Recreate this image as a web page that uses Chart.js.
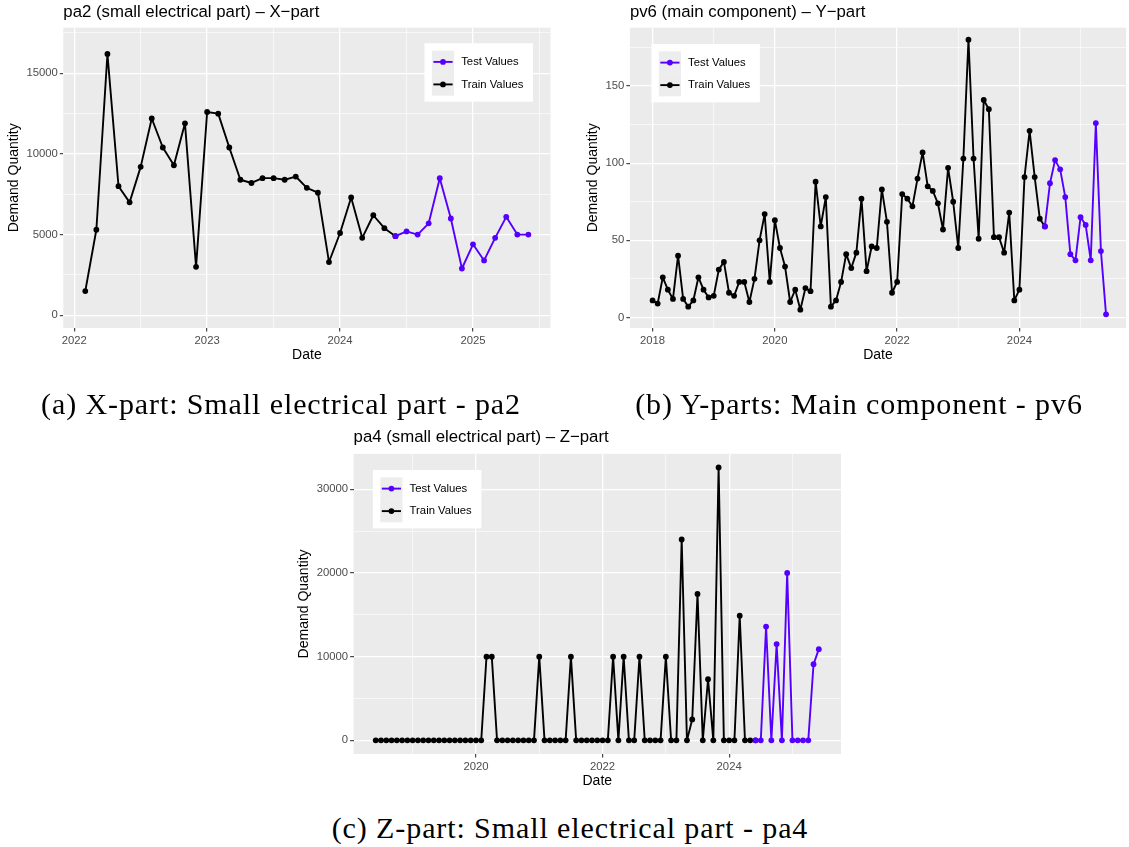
<!DOCTYPE html>
<html><head><meta charset="utf-8">
<script src="https://cdn.jsdelivr.net/npm/chart.js@4.4.1/dist/chart.umd.min.js"></script>
<style>
html,body{margin:0;padding:0;background:#fff;width:1129px;height:847px;overflow:hidden;}
.box{position:absolute;}
canvas{display:block;}
.cap{position:absolute;font-family:"Liberation Serif","Times New Roman",serif;font-size:30px;letter-spacing:0.9px;color:#000;white-space:nowrap;text-align:center;height:40px;line-height:40px;}
</style></head><body>
<div class="box" style="left:0;top:0"><canvas id="cA" width="560" height="370"></canvas></div>
<div class="box" style="left:570px;top:0"><canvas id="cB" width="559" height="370"></canvas></div>
<div class="box" style="left:290px;top:420px"><canvas id="cC" width="560" height="376"></canvas></div>
<div class="cap" style="left:0;width:562px;top:384px">(a) X-part: Small electrical part - pa2</div>
<div class="cap" style="left:589px;width:540px;top:384px">(b) Y-parts: Main component - pv6</div>
<div class="cap" style="left:270px;width:600px;top:808px">(c) Z-part: Small electrical part - pa4</div>
<script>
// ---------- data: pa2 (X-part) ----------
const pa2TrainMonths = [
  '2022-02','2022-03','2022-04','2022-05','2022-06','2022-07','2022-08','2022-09','2022-10','2022-11','2022-12',
  '2023-01','2023-02','2023-03','2023-04','2023-05','2023-06','2023-07','2023-08','2023-09','2023-10','2023-11','2023-12',
  '2024-01','2024-02','2024-03','2024-04','2024-05'];
const pa2TrainValues = [
  1500,5300,16200,8000,7000,9200,12200,10400,9300,11900,3000,
  12600,12500,10400,8400,8200,8500,8500,8400,8600,7900,7600,3300,
  5100,7300,4800,6200,5400];
const pa2TestMonths = ['2024-06','2024-07','2024-08','2024-09','2024-10','2024-11','2024-12',
  '2025-01','2025-02','2025-03','2025-04','2025-05','2025-06'];
const pa2TestValues = [4900,5200,5000,5700,8500,6000,2900,4400,3400,4800,6100,5000,5000];

// ---------- data: pv6 (Y-part) ----------
const pv6TrainMonths = [
  '2018-01','2018-02','2018-03','2018-04','2018-05','2018-06','2018-07','2018-08','2018-09','2018-10','2018-11','2018-12',
  '2019-01','2019-02','2019-03','2019-04','2019-05','2019-06','2019-07','2019-08','2019-09','2019-10','2019-11','2019-12',
  '2020-01','2020-02','2020-03','2020-04','2020-05','2020-06','2020-07','2020-08','2020-09','2020-10','2020-11','2020-12',
  '2021-01','2021-02','2021-03','2021-04','2021-05','2021-06','2021-07','2021-08','2021-09','2021-10','2021-11','2021-12',
  '2022-01','2022-02','2022-03','2022-04','2022-05','2022-06','2022-07','2022-08','2022-09','2022-10','2022-11','2022-12',
  '2023-01','2023-02','2023-03','2023-04','2023-05','2023-06','2023-07','2023-08','2023-09','2023-10','2023-11','2023-12',
  '2024-01','2024-02','2024-03','2024-04','2024-05'];
const pv6TrainValues = [
  11,9,26,18,12,40,12,7,11,26,18,13,
  14,31,36,16,14,23,23,10,25,50,67,23,
  63,45,33,10,18,5,19,17,88,59,78,7,
  11,23,41,32,42,77,30,46,45,83,62,16,
  23,80,77,72,90,107,85,82,74,57,97,75,
  45,103,180,103,51,141,135,52,52,42,68,11,
  18,91,121,91,64];
const pv6TestMonths = ['2024-06','2024-07','2024-08','2024-09','2024-10','2024-11','2024-12',
  '2025-01','2025-02','2025-03','2025-04','2025-05','2025-06'];
const pv6TestValues = [59,87,102,96,78,41,37,65,60,37,126,43,2];

// ---------- data: pa4 (Z-part) ----------
const pa4TrainMonths = [
  '2018-06','2018-07','2018-08','2018-09','2018-10','2018-11','2018-12',
  '2019-01','2019-02','2019-03','2019-04','2019-05','2019-06','2019-07','2019-08','2019-09','2019-10','2019-11','2019-12',
  '2020-01','2020-02','2020-03','2020-04','2020-05','2020-06','2020-07','2020-08','2020-09','2020-10','2020-11','2020-12',
  '2021-01','2021-02','2021-03','2021-04','2021-05','2021-06','2021-07','2021-08','2021-09','2021-10','2021-11','2021-12',
  '2022-01','2022-02','2022-03','2022-04','2022-05','2022-06','2022-07','2022-08','2022-09','2022-10','2022-11','2022-12',
  '2023-01','2023-02','2023-03','2023-04','2023-05','2023-06','2023-07','2023-08','2023-09','2023-10','2023-11','2023-12',
  '2024-01','2024-02','2024-03','2024-04','2024-05'];
const pa4TrainValues = [
  0,0,0,0,0,0,0,
  0,0,0,0,0,0,0,0,0,0,0,0,
  0,0,10000,10000,0,0,0,0,0,0,0,0,
  10000,0,0,0,0,0,10000,0,0,0,0,0,
  0,0,10000,0,10000,0,0,10000,0,0,0,0,
  10000,0,0,24000,0,2500,17500,0,7300,0,32600,0,
  0,0,14900,0,0];
const pa4TestMonths = ['2024-06','2024-07','2024-08','2024-09','2024-10','2024-11','2024-12',
  '2025-01','2025-02','2025-03','2025-04','2025-05','2025-06'];
const pa4TestValues = [0,0,13600,0,11500,0,20000,0,0,0,0,9100,10900];

const seriesLabels = ['Test Values', 'Train Values'];
const yAxisLabel = 'Demand Quantity';
const xAxisLabel = 'Date';

// ---------- styling / helpers ----------
const PURPLE = '#5500FF', BLACK = '#000000';
const FONT = '"Liberation Sans", Arial, Helvetica, sans-serif';

function yearOf(m) { const p = m.split('-').map(Number); return p[0] + (p[1] - 1) / 12; }
function pts(months, vals) { return months.map((m, i) => ({ x: yearOf(m), y: vals[i] })); }
function near(v, step) { return Math.abs(v / step - Math.round(v / step)) < 1e-6; }
function tickList(min, max, step) {
  const t = [];
  for (let k = Math.ceil(min / step - 1e-9); k * step <= max + 1e-9; k++) t.push({ value: +(k * step).toFixed(6) });
  return t;
}

const panelBg = {
  id: 'panelBg',
  beforeDraw(chart) {
    const a = chart.chartArea, ctx = chart.ctx;
    ctx.save();
    ctx.fillStyle = '#EBEBEB';
    ctx.fillRect(a.left, a.top, a.right - a.left, a.bottom - a.top);
    ctx.restore();
  }
};

const ggLegend = {
  id: 'ggLegend',
  afterDatasetsDraw(chart, args, o) {
    const a = chart.chartArea, ctx = chart.ctx;
    const w = 108.5, h = 58.4;
    const x0 = o.side === 'right' ? a.right - o.dx - w : a.left + o.dx;
    const y0 = a.top + o.dy;
    ctx.save();
    ctx.fillStyle = '#FFFFFF';
    ctx.fillRect(x0, y0, w, h);
    chart.data.datasets.forEach((ds, i) => {
      const kx = x0 + 7.4, ky = y0 + 7.4 + i * 22.5;
      ctx.fillStyle = '#EDEDED';
      ctx.fillRect(kx, ky, 22.2, 22.5);
      const cy = ky + 11.25;
      ctx.strokeStyle = ds.borderColor; ctx.lineWidth = ds.borderWidth;
      ctx.beginPath(); ctx.moveTo(kx + 1.5, cy); ctx.lineTo(kx + 20.7, cy); ctx.stroke();
      ctx.fillStyle = ds.borderColor;
      ctx.beginPath(); ctx.arc(kx + 11.1, cy, ds.pointRadius, 0, Math.PI * 2); ctx.fill();
      ctx.fillStyle = '#000000';
      ctx.font = '11.3px ' + FONT;
      ctx.textBaseline = 'middle'; ctx.textAlign = 'left';
      ctx.fillText(ds.label, x0 + 36.7, cy);
    });
    ctx.restore();
  }
};

function axisGrid(major) {
  return {
    color: '#FFFFFF',
    lineWidth: c => (c.tick && near(c.tick.value, major)) ? 1.3 : 0.6,
    drawTicks: true,
    tickLength: 3.5,
    tickWidth: 1.1,
    tickColor: c => (c.tick && near(c.tick.value, major)) ? '#333333' : 'rgba(0,0,0,0)'
  };
}

function build(id, o) {
  const test = pts(o.testMonths, o.testVals);
  const train = pts(o.trainMonths, o.trainVals).concat(test.slice(0, 1));
  const common = { pointRadius: 2.9, pointBorderWidth: 0, pointHoverRadius: 2.9, borderWidth: 1.9,
    borderJoinStyle: 'round', borderCapStyle: 'round', tension: 0, fill: false };
  new Chart(document.getElementById(id), {
    type: 'line',
    data: {
      datasets: [
        Object.assign({ label: seriesLabels[0], data: test, borderColor: PURPLE, backgroundColor: PURPLE, pointBackgroundColor: PURPLE }, common),
        Object.assign({ label: seriesLabels[1], data: train, borderColor: BLACK, backgroundColor: BLACK, pointBackgroundColor: BLACK }, common)
      ]
    },
    options: {
      responsive: false, animation: false, events: [], devicePixelRatio: 1,
      layout: { padding: { left: 0, right: o.padR, top: 0, bottom: 0 } },
      scales: {
        x: {
          type: 'linear', min: o.xMin, max: o.xMax,
          afterBuildTicks: s => { s.ticks = tickList(o.xMin, o.xMax, o.xStep); },
          afterFit: s => { s.height = 42; },
          border: { display: false },
          grid: axisGrid(o.xMajor),
          ticks: {
            autoSkip: false, maxRotation: 0, minRotation: 0,
            padding: 2.2, color: '#4D4D4D', font: { family: FONT, size: 11.3 },
            callback: v => near(v, o.xMajor) ? String(Math.round(v)) : ''
          },
          title: { display: true, text: xAxisLabel, color: '#000000', font: { family: FONT, size: 14 }, padding: { top: 0, bottom: 6.6 } }
        },
        y: {
          type: 'linear', min: o.yMin, max: o.yMax,
          afterBuildTicks: s => { s.ticks = tickList(o.yMin, o.yMax, o.yStep); },
          afterFit: s => { s.width = o.yWidth; },
          border: { display: false },
          grid: axisGrid(o.yMajor),
          ticks: {
            autoSkip: false,
            padding: 2, color: '#4D4D4D', font: { family: FONT, size: 11.3 },
            callback: v => near(v, o.yMajor) ? String(Math.round(v)) : ''
          },
          title: { display: true, text: yAxisLabel, color: '#000000', font: { family: FONT, size: 14 }, padding: { top: o.yTitlePad, bottom: 0 } }
        }
      },
      plugins: {
        legend: { display: false },
        tooltip: { enabled: false },
        title: {
          display: true, text: o.title, align: 'start', fullSize: false, color: '#000000',
          font: { family: FONT, size: 16.8, weight: 'normal' },
          padding: { top: o.tTop, bottom: o.tBot }
        },
        ggLegend: o.legend
      }
    },
    plugins: [panelBg, ggLegend]
  });
}

build('cA', {
  title: 'pa2 (small electrical part) – X\u2212part',
  trainMonths: pa2TrainMonths, trainVals: pa2TrainValues, testMonths: pa2TestMonths, testVals: pa2TestValues,
  xMin: 2021.918, xMax: 2025.583, xStep: 0.5, xMajor: 1,
  yMin: -790, yMax: 17830, yStep: 2500, yMajor: 5000,
  yWidth: 63.3, yTitlePad: 5.9, padR: 9.5, tTop: 2.4, tBot: 5.1,
  legend: { side: 'right', dx: 17.5, dy: 15.6 }
});
build('cB', {
  title: 'pv6 (main component) – Y\u2212part',
  trainMonths: pv6TrainMonths, trainVals: pv6TrainValues, testMonths: pv6TestMonths, testVals: pv6TestValues,
  xMin: 2017.629, xMax: 2025.745, xStep: 1, xMajor: 2,
  yMin: -6.85, yMax: 187.85, yStep: 25, yMajor: 50,
  yWidth: 59.9, yTitlePad: 14.8, padR: 0, tTop: 2.4, tBot: 5.1,
  legend: { side: 'left', dx: 21.5, dy: 16.3 }
});
build('cC', {
  title: 'pa4 (small electrical part) – Z\u2212part',
  trainMonths: pa4TrainMonths, trainVals: pa4TrainValues, testMonths: pa4TestMonths, testVals: pa4TestValues,
  xMin: 2018.067, xMax: 2025.767, xStep: 1, xMajor: 2,
  yMin: -1630, yMax: 34230, yStep: 5000, yMajor: 10000,
  yWidth: 63.6, yTitlePad: 5.9, padR: 9, tTop: 7.4, tBot: 6.3,
  legend: { side: 'left', dx: 19.3, dy: 16.1 }
});
</script>
</body></html>
